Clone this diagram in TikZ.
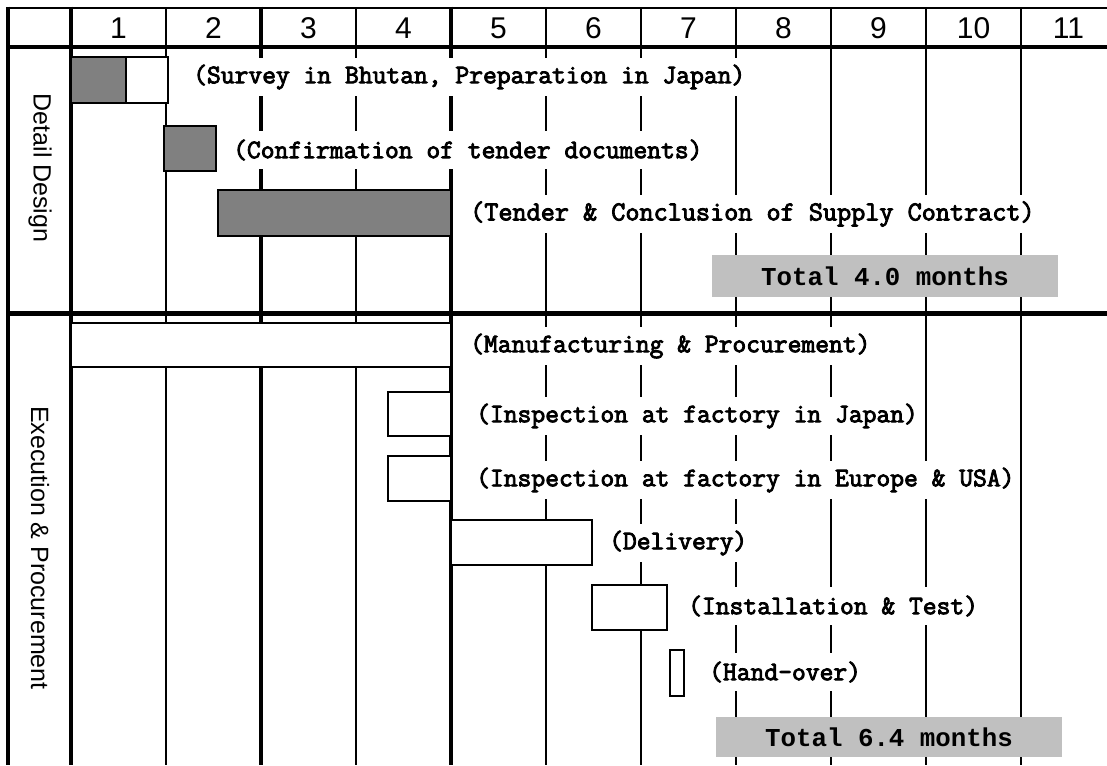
\documentclass[tikz,border=0pt]{standalone}
\usepackage{fontspec}
\setmainfont{Liberation Sans}
\newfontfamily\labelmono[AutoFakeBold=3.2]{Latin Modern Mono}
\newfontfamily\totalmono{Liberation Mono}
\definecolor{barGray}{RGB}{128,128,128}
\definecolor{totalGray}{RGB}{192,192,192}
\begin{document}
\begin{tikzpicture}[x=1pt,y=-1pt,
  gridthick/.style={line width=3.8pt},
  gridthin/.style={line width=2pt},
  darkbar/.style={draw=black,line width=2pt,fill=barGray},
  lightbar/.style={draw=black,line width=2pt,fill=white},
  lbl/.style={anchor=west,fill=white,inner xsep=3pt,inner ysep=0pt,minimum height=38pt,
    font=\labelmono\bfseries\fontsize{26.8}{28}\selectfont},
  widelbl/.style={lbl,font=\labelmono\bfseries\fontsize{27.4}{28}\selectfont},
  totalbox/.style={fill=totalGray,inner sep=0pt,minimum width=346pt,
    font=\totalmono\bfseries\fontsize{25.8}{27}\selectfont},
  hdr/.style={font=\fontsize{30}{32}\selectfont,inner sep=0pt},
  side/.style={rotate=-90,font=\fontsize{25}{27}\selectfont,inner sep=0pt}]
\useasboundingbox (0,0) rectangle (1107,765);
\fill[white] (0,0) rectangle (1107,765);

% grid
\draw[line width=2.7pt] (8,8) -- (1107,8);
\draw[line width=4pt] (8,47) -- (1107,47);
\draw[line width=5pt] (8,313) -- (1107,313);
\foreach \x in {8,71,261,451} \draw[gridthick] (\x,6.6) -- (\x,765);
\foreach \x in {166,356,546,641,736,831,926,1021} \draw[gridthin] (\x,8) -- (\x,765);

% header
\foreach \n [count=\i] in {1,...,11}
  \node[hdr] (h\i) at ({71+95*(\i-0.5)},28) {\n};

% side labels
\node[side] (sdd) at (40,168) {Detail Design};
\node[side] (sep) at (40,548) {Execution \& Procurement};

% detail design bars
\draw[darkbar] (71,57) rectangle (126,103);
\draw[lightbar] (126,57) rectangle (168,103);
\draw[darkbar] (164,126) rectangle (216,171);
\draw[darkbar] (218,190) rectangle (451,236);

% execution bars
\draw[lightbar] (71,323) rectangle (451,367);
\draw[lightbar] (388,392) rectangle (451,436);
\draw[lightbar] (388,456) rectangle (451,501);
\draw[lightbar] (451,520) rectangle (592,565);
\draw[lightbar] (592,585) rectangle (667,630);
\draw[lightbar] (670,650) rectangle (684,696);

% labels
\node[lbl] (l1) at (190,77) {(Survey in Bhutan, Preparation in Japan)};
\node[lbl] (l2) at (230,150) {(Confirmation of tender documents)};
\node[widelbl] (l3) at (467,214) {(Tender \& Conclusion of Supply Contract)};
\node[lbl] (l4) at (467,346) {(Manufacturing \& Procurement)};
\node[lbl] (l5) at (473,416) {(Inspection at factory in Japan)};
\node[lbl] (l6) at (473,480) {(Inspection at factory in Europe \& USA)};
\node[lbl] (l7) at (606,543) {(Delivery)};
\node[lbl] (l8) at (685,606) {(Installation \& Test)};
\node[lbl] (l9) at (706,672) {(Hand-over)};

% totals
\node[totalbox,minimum height=42pt] (t1) at (885,276) {Total 4.0 months};
\node[totalbox,minimum height=40pt] (t2) at (889,737) {Total 6.4 months};
\end{tikzpicture}
\end{document}
